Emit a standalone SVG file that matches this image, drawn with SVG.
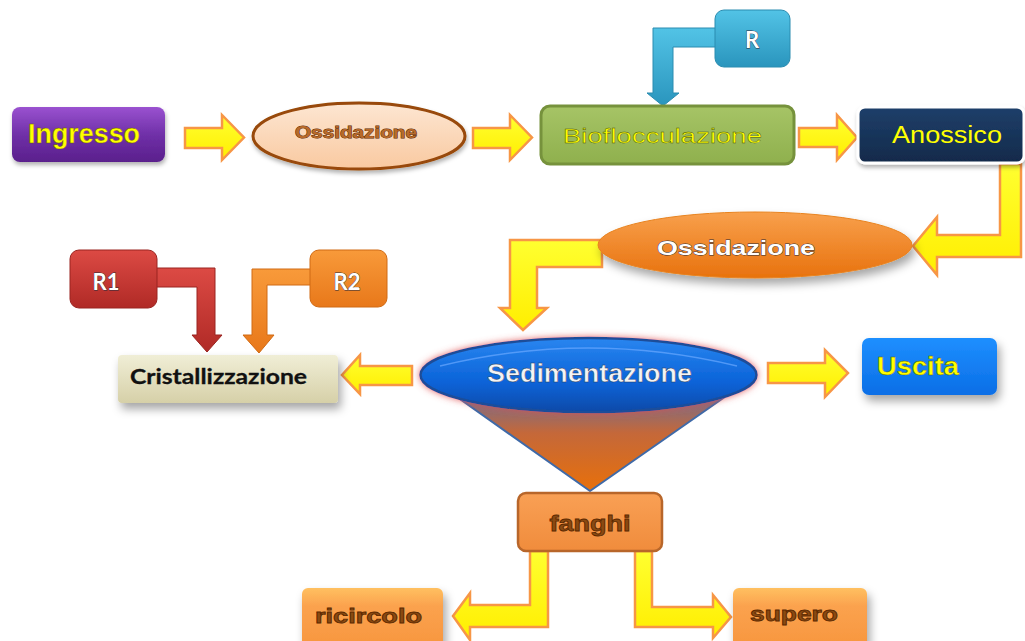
<svg xmlns="http://www.w3.org/2000/svg" width="1025" height="641" viewBox="0 0 1025 641">
<defs>
<linearGradient id="gPurple" x1="0" y1="0" x2="0" y2="1"><stop offset="0" stop-color="#9a52d0"/><stop offset="0.5" stop-color="#7030a8"/><stop offset="1" stop-color="#5a1f8c"/></linearGradient>
<linearGradient id="gPeach" x1="0" y1="0" x2="0" y2="1"><stop offset="0" stop-color="#fde6d2"/><stop offset="1" stop-color="#f9c9a0"/></linearGradient>
<linearGradient id="gGreen" x1="0" y1="0" x2="0" y2="1"><stop offset="0" stop-color="#a6c466"/><stop offset="1" stop-color="#8fb04d"/></linearGradient>
<linearGradient id="gCyan" x1="0" y1="0" x2="0" y2="1"><stop offset="0" stop-color="#52c3e6"/><stop offset="1" stop-color="#2a95bd"/></linearGradient>
<linearGradient id="gNavy" x1="0" y1="0" x2="0" y2="1"><stop offset="0" stop-color="#1f3f6a"/><stop offset="1" stop-color="#112a4a"/></linearGradient>
<linearGradient id="gOrange" x1="0" y1="0" x2="0" y2="1"><stop offset="0" stop-color="#f8a04c"/><stop offset="1" stop-color="#e8720e"/></linearGradient>
<linearGradient id="gBlue" x1="0" y1="0" x2="0" y2="1"><stop offset="0" stop-color="#2a86f0"/><stop offset="0.6" stop-color="#0a63d8"/><stop offset="1" stop-color="#0a4aa8"/></linearGradient>
<linearGradient id="gFunnel" x1="0" y1="0" x2="0" y2="1"><stop offset="0" stop-color="#5a6fa8"/><stop offset="0.45" stop-color="#c4683a"/><stop offset="1" stop-color="#e8700a"/></linearGradient>
<linearGradient id="gUscita" x1="0" y1="0" x2="0" y2="1"><stop offset="0" stop-color="#1e8fff"/><stop offset="1" stop-color="#0a6ee6"/></linearGradient>
<linearGradient id="gFanghi" x1="0" y1="0" x2="0" y2="1"><stop offset="0" stop-color="#f9a055"/><stop offset="1" stop-color="#f08c3c"/></linearGradient>
<linearGradient id="gLightOr" x1="0" y1="0" x2="0" y2="1"><stop offset="0" stop-color="#ffc060"/><stop offset="0.3" stop-color="#fba24e"/><stop offset="1" stop-color="#f7963e"/></linearGradient>
<linearGradient id="gBeige" x1="0" y1="0" x2="0" y2="1"><stop offset="0" stop-color="#f0eed6"/><stop offset="1" stop-color="#d6d0a8"/></linearGradient>
<linearGradient id="gRed" x1="0" y1="0" x2="0" y2="1"><stop offset="0" stop-color="#dc4a44"/><stop offset="1" stop-color="#b02a26"/></linearGradient>
<linearGradient id="gOr2" x1="0" y1="0" x2="0" y2="1"><stop offset="0" stop-color="#f89a3a"/><stop offset="1" stop-color="#e8781a"/></linearGradient>
<linearGradient id="gYellow" x1="0" y1="0" x2="0" y2="1"><stop offset="0" stop-color="#ffff30"/><stop offset="1" stop-color="#ffee00"/></linearGradient>
<filter id="sh" x="-20%" y="-30%" width="150%" height="180%"><feDropShadow dx="3" dy="6" stdDeviation="5" flood-color="#000" flood-opacity="0.35"/></filter>
<filter id="shS" x="-20%" y="-30%" width="150%" height="180%"><feDropShadow dx="1" dy="3" stdDeviation="2" flood-color="#000" flood-opacity="0.3"/></filter>
<filter id="glow" x="-20%" y="-40%" width="140%" height="180%"><feDropShadow dx="0" dy="0" stdDeviation="3.5" flood-color="#e05050" flood-opacity="0.85"/></filter>
</defs>
<style>
.ya{fill:url(#gYellow);stroke:#f79646;stroke-width:2.5;stroke-linejoin:miter}
.t{font-family:"Liberation Sans",Arial,sans-serif}
.c{font-family:Lato,"Liberation Sans",sans-serif;font-weight:bold}
.b{font-weight:bold}
.yel{fill:#ffff00}
.brn{fill:#b86a2a;stroke:#5a2800;stroke-width:0.9;paint-order:stroke}
.brn2{fill:#8a4a12;stroke:#5a2800;stroke-width:0.8}
.wo{fill:#ffffff;stroke:#2a2a3a;stroke-width:0.8;paint-order:stroke}
</style>
<g id="connectors">
<path class="ya" d="M185,128 H222 V115 L244,137.5 L222,160 V148 H185 Z"/>
<path class="ya" d="M473,128 H510 V115 L532,137.5 L510,160 V148 H473 Z"/>
<path class="ya" d="M799,128 H837 V115 L857,137.5 L837,160 V147 H799 Z"/>
<path fill="url(#gCyan)" stroke="#2a8cb0" stroke-width="1" d="M718,28 H653 V93 H647 L663,106 L679,93 H673 V47 H718 Z"/>
<path class="ya" d="M1000,164 H1021 V257 H937 V275 L913,246 L937,217 V235 H1000 Z"/>
<path class="ya" d="M602,240 H510 V308 H500 L523,330 L547,308 H537 V267 H602 Z"/>
<path class="ya" d="M412,366 H360 V355 L342,375 L360,394 V385 H412 Z"/>
<path class="ya" d="M768,363 H825 V350 L848,373 L825,397 V383 H768 Z"/>
<path class="ya" d="M530,551 H548 V627 H470 V640 L453,616 L470,593 V605 H530 Z"/>
<path class="ya" d="M635,551 H652 V607 H713 V595 L731,617 L713,638 V627 H635 Z"/>
<path fill="url(#gRed)" stroke="#9a2420" stroke-width="1" d="M150,268 H215 V335 H222 L207,352 L192,335 H197 V287 H150 Z"/>
<path fill="url(#gOr2)" stroke="#d06a14" stroke-width="1" d="M315,269 H252 V335 H243 L259,353 L274,335 H267 V285 H315 Z"/>
</g>
<g id="ingresso">
<rect x="12" y="107" width="153" height="55" rx="8" fill="url(#gPurple)" filter="url(#shS)"/>
<text class="t b yel" x="28" y="143" font-size="27" textLength="112" lengthAdjust="spacingAndGlyphs" stroke="#6a5a00" stroke-width="0.4">Ingresso</text>
</g>
<g id="ossidazione1">
<ellipse cx="359" cy="136" rx="106" ry="33" fill="url(#gPeach)" stroke="#984807" stroke-width="3" filter="url(#shS)"/>
<text class="t b brn" x="295" y="138" font-size="16" textLength="122" lengthAdjust="spacingAndGlyphs">Ossidazione</text>
</g>
<g id="bioflocculazione">
<rect x="541" y="106" width="253" height="58" rx="9" fill="url(#gGreen)" stroke="#76923c" stroke-width="3"/>
<text class="t" x="563" y="143" font-size="21" fill="#ffff00" stroke="#3a4a10" stroke-width="0.35" textLength="199" lengthAdjust="spacingAndGlyphs">Bioflocculazione</text>
</g>
<g id="r">
<rect x="715" y="10" width="75" height="57" rx="9" fill="url(#gCyan)" stroke="#2a8cb0" stroke-width="1"/>
<text class="c wo" x="752" y="48" font-size="22" text-anchor="middle">R</text>
</g>
<g id="anossico">
<rect x="858" y="107" width="166" height="56" rx="7" fill="url(#gNavy)" stroke="#ffffff" stroke-width="3" filter="url(#shS)"/>
<text class="t yel" x="892" y="143" font-size="23" textLength="110" lengthAdjust="spacingAndGlyphs">Anossico</text>
</g>
<g id="ossidazione2">
<ellipse cx="755" cy="245" rx="157" ry="33" fill="url(#gOrange)" stroke="#e8821e" stroke-width="1" filter="url(#sh)"/>
<text class="t b wo" x="657" y="255" font-size="21" textLength="158" lengthAdjust="spacingAndGlyphs">Ossidazione</text>
</g>
<g id="r1">
<rect x="70" y="250" width="87" height="58" rx="9" fill="url(#gRed)" stroke="#9a2420" stroke-width="1"/>
<text class="c wo" x="106" y="290" font-size="22" text-anchor="middle">R1</text>
</g>
<g id="r2">
<rect x="310" y="250" width="77" height="57" rx="9" fill="url(#gOr2)" stroke="#d06a14" stroke-width="1"/>
<text class="c wo" x="347" y="290" font-size="22" text-anchor="middle">R2</text>
</g>
<g id="cristallizzazione">
<rect x="118" y="355" width="220" height="48" rx="4" fill="url(#gBeige)" filter="url(#sh)"/>
<text class="c" x="130" y="384" font-size="20" font-weight="900" fill="#111" stroke="#111" stroke-width="0.3" textLength="177" lengthAdjust="spacingAndGlyphs">Cristallizzazione</text>
</g>
<g id="sedimentazione">
<polygon points="440,385 742,385 590,491" fill="url(#gFunnel)" stroke="#3f6aa8" stroke-width="2" stroke-linejoin="round"/>
<ellipse cx="588.5" cy="375" rx="168" ry="37" fill="url(#gBlue)" stroke="#1f4e99" stroke-width="2.5" filter="url(#glow)"/>
<path d="M440,366 Q588,330 737,366" fill="none" stroke="#6aa8ff" stroke-width="1.5" opacity="0.7"/>
<text class="t b" x="487" y="382" font-size="25" fill="#f4f4f4" stroke="#223355" stroke-width="0.4" textLength="205" lengthAdjust="spacingAndGlyphs">Sedimentazione</text>
</g>
<g id="uscita">
<rect x="862" y="338" width="135" height="57" rx="7" fill="url(#gUscita)" filter="url(#sh)"/>
<text class="t b yel" x="877" y="375" font-size="26" stroke="#5a5a00" stroke-width="0.4" textLength="82" lengthAdjust="spacingAndGlyphs">Uscita</text>
</g>
<g id="fanghi">
<rect x="518" y="493" width="144" height="58" rx="8" fill="url(#gFanghi)" stroke="#b8662a" stroke-width="2.5"/>
<text class="t b brn2" x="590" y="531" font-size="22" text-anchor="middle" textLength="81" lengthAdjust="spacingAndGlyphs">fanghi</text>
</g>
<g id="ricircolo">
<rect x="302" y="588" width="141" height="60" rx="6" fill="url(#gLightOr)" filter="url(#sh)"/>
<text class="t b brn2" x="315" y="623" font-size="20" textLength="107" lengthAdjust="spacingAndGlyphs">ricircolo</text>
</g>
<g id="supero">
<rect x="733" y="588" width="134" height="60" rx="6" fill="url(#gLightOr)" filter="url(#sh)"/>
<text class="t b brn2" x="750" y="621" font-size="20" textLength="88" lengthAdjust="spacingAndGlyphs">supero</text>
</g>
</svg>
